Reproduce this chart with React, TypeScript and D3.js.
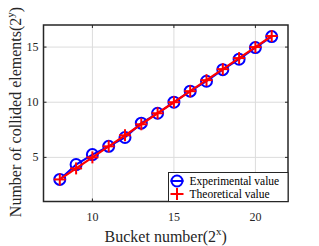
import { useEffect, useRef } from "react";
import * as d3 from "d3";

const bucketBits = [8, 9, 10, 11, 12, 13, 14, 15, 16, 17, 18, 19, 20, 21];
const experimental = [3.0, 4.35, 5.25, 6.0, 6.8, 8.1, 9.0, 10.0, 11.0, 11.9, 12.95, 13.9, 14.95, 15.95];
const theoretical = [3, 4, 5, 6, 7, 8, 9, 10, 11, 12, 13, 14, 15, 16];
const xTicks = [10, 15, 20];
const yTicks = [5, 10, 15];
const legendLabels = ["Experimental value", "Theoretical value"];

export default function App() {
  const ref = useRef<SVGSVGElement | null>(null);

  useEffect(() => {
    const W = 319;
    const H = 246;
    const left = 43.5;
    const right = 288;
    const top = 25;
    const bottom = 201.5;
    const font = "'Liberation Serif', 'Times New Roman', serif";

    const svg = d3.select(ref.current).attr("width", W).attr("height", H);
    svg.selectAll("*").remove();

    const x = d3.scaleLinear().domain([7, 22]).range([left, right]);
    const y = d3.scaleLinear().domain([1, 17]).range([bottom, top]);

    svg.append("rect").attr("width", W).attr("height", H).attr("fill", "#fff");

    // grid
    svg.selectAll(".gx").data(xTicks).enter().append("line")
      .attr("x1", (d) => x(d)).attr("x2", (d) => x(d))
      .attr("y1", top).attr("y2", bottom)
      .attr("stroke", "#dcdcdc").attr("stroke-width", 1);
    svg.selectAll(".gy").data(yTicks).enter().append("line")
      .attr("y1", (d) => y(d)).attr("y2", (d) => y(d))
      .attr("x1", left).attr("x2", right)
      .attr("stroke", "#dcdcdc").attr("stroke-width", 1);

    // ticks (inward, all sides)
    const tl = 3;
    xTicks.forEach((t) => {
      svg.append("line").attr("x1", x(t)).attr("x2", x(t)).attr("y1", bottom).attr("y2", bottom - tl).attr("stroke", "#262626");
      svg.append("line").attr("x1", x(t)).attr("x2", x(t)).attr("y1", top).attr("y2", top + tl).attr("stroke", "#262626");
    });
    yTicks.forEach((t) => {
      svg.append("line").attr("x1", left).attr("x2", left + tl).attr("y1", y(t)).attr("y2", y(t)).attr("stroke", "#262626");
      svg.append("line").attr("x1", right).attr("x2", right - tl).attr("y1", y(t)).attr("y2", y(t)).attr("stroke", "#262626");
    });

    // tick labels
    svg.selectAll(".xl").data(xTicks).enter().append("text")
      .attr("x", (d) => x(d)).attr("y", bottom + 19)
      .attr("text-anchor", "middle").attr("font-family", font).attr("font-size", 12)
      .attr("fill", "#262626").text((d) => d);
    svg.selectAll(".yl").data(yTicks).enter().append("text")
      .attr("x", left - 5).attr("y", (d) => y(d) + 4)
      .attr("text-anchor", "end").attr("font-family", font).attr("font-size", 12)
      .attr("fill", "#262626").text((d) => d);

    // series
    const pts = (vals: number[]) => bucketBits.map((b, i) => [x(b), y(vals[i])] as [number, number]);
    const line = d3.line();
    svg.append("path").attr("d", line(pts(experimental))).attr("fill", "none")
      .attr("stroke", "#0000ff").attr("stroke-width", 2);
    svg.selectAll(".circ").data(pts(experimental)).enter().append("circle")
      .attr("cx", (d) => d[0]).attr("cy", (d) => d[1]).attr("r", 5.5)
      .attr("fill", "none").attr("stroke", "#0000ff").attr("stroke-width", 2);
    svg.append("path").attr("d", line(pts(theoretical))).attr("fill", "none")
      .attr("stroke", "#ff0000").attr("stroke-width", 2.2);
    const cross = (g: d3.Selection<SVGGElement, unknown, null, undefined>, cx: number, cy: number) => {
      g.append("line").attr("x1", cx - 6).attr("x2", cx + 6).attr("y1", cy).attr("y2", cy).attr("stroke", "#ff0000").attr("stroke-width", 2);
      g.append("line").attr("x1", cx).attr("x2", cx).attr("y1", cy - 6).attr("y2", cy + 6).attr("stroke", "#ff0000").attr("stroke-width", 2);
    };
    const crossG = svg.append("g");
    pts(theoretical).forEach(([cx, cy]) => cross(crossG as any, cx, cy));

    // frame
    svg.append("rect").attr("x", left).attr("y", top).attr("width", right - left).attr("height", bottom - top)
      .attr("fill", "none").attr("stroke", "#262626").attr("stroke-width", 1.5);

    // legend
    const lx = 168.5, ly = 172.5, lw = 119.5, lh = 29;
    svg.append("rect").attr("x", lx).attr("y", ly).attr("width", lw).attr("height", lh)
      .attr("fill", "#fff").attr("stroke", "#262626").attr("stroke-width", 1);
    const rows = [ly + 8.5, ly + 21.5];
    const lg = svg.append("g");
    lg.append("line").attr("x1", lx + 2).attr("x2", lx + 15).attr("y1", rows[0]).attr("y2", rows[0]).attr("stroke", "#0000ff").attr("stroke-width", 2);
    lg.append("circle").attr("cx", lx + 8.5).attr("cy", rows[0]).attr("r", 5.5).attr("fill", "none").attr("stroke", "#0000ff").attr("stroke-width", 2);
    lg.append("line").attr("x1", lx + 2).attr("x2", lx + 15).attr("y1", rows[1]).attr("y2", rows[1]).attr("stroke", "#ff0000").attr("stroke-width", 2);
    cross(lg as any, lx + 8.5, rows[1]);
    legendLabels.forEach((t, i) => {
      svg.append("text").attr("x", lx + 21).attr("y", rows[i] + 4)
        .attr("font-family", font).attr("font-size", 11.5).attr("fill", "#000").text(t);
    });

    // axis labels
    const xl = svg.append("text").attr("x", (left + right) / 2).attr("y", 242)
      .attr("text-anchor", "middle").attr("font-family", font).attr("font-size", 16).attr("fill", "#262626");
    xl.append("tspan").text("Bucket number(2");
    xl.append("tspan").attr("dy", -7).attr("font-size", 11).text("x");
    xl.append("tspan").attr("dy", 7).text(")");

    const yl = svg.append("text").attr("transform", `translate(21,112) rotate(-90)`)
      .attr("text-anchor", "middle").attr("font-family", font).attr("font-size", 16).attr("fill", "#262626");
    yl.append("tspan").text("Number of collided elements(2");
    yl.append("tspan").attr("dy", -7).attr("font-size", 11).text("y");
    yl.append("tspan").attr("dy", 7).text(")");
  }, []);

  return <svg ref={ref} style={{ position: "absolute", left: 0, top: 0 }} />;
}
